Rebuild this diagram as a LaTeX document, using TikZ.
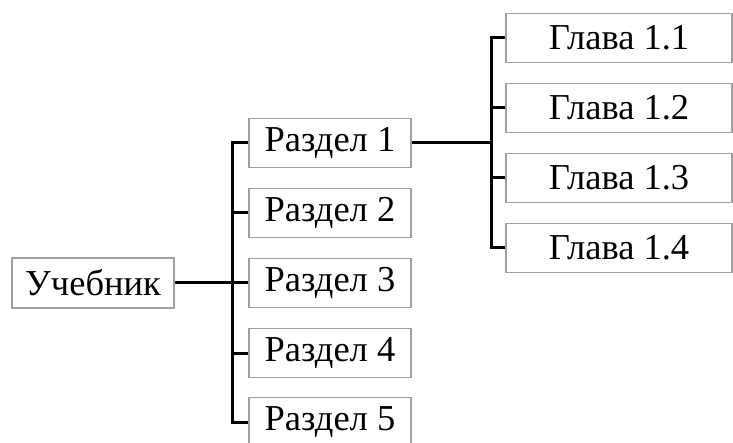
\documentclass[tikz,border=0pt]{standalone}
\usepackage{fontspec}
\setmainfont{Liberation Serif}
\begin{document}
\begin{tikzpicture}[x=1pt,y=-1pt,
  box/.style={draw=boxgray,line width=1.4pt,inner sep=0pt,
    font=\fontsize{36.5}{44}\selectfont},
  small/.style={box,minimum width=162pt,minimum height=49pt},
  wide/.style={box,minimum width=226pt,minimum height=49pt},
  conn/.style={draw=black,line width=3pt}]
\definecolor{boxgray}{HTML}{A0A0A0}
\useasboundingbox (0,0) rectangle (733,443);
% root
\node[box,minimum width=162pt,minimum height=50pt] (book) at (93,283) {Учебник};
% sections
\node[small] (r1) at (330,143) {Раздел 1};
\node[small] (r2) at (330,213) {Раздел 2};
\node[small] (r3) at (330,283) {Раздел 3};
\node[small] (r4) at (330,353) {Раздел 4};
\node[small] (r5) at (330,422) {Раздел 5};
% chapters of section 1
\node[wide] (g1) at (619,38) {Глава 1.1};
\node[wide] (g2) at (619,108) {Глава 1.2};
\node[wide] (g3) at (619,178) {Глава 1.3};
\node[wide] (g4) at (619,248) {Глава 1.4};
% junction columns
\coordinate (ja) at (232,0);
\coordinate (jb) at (491,0);
% root to sections
\draw[conn] (book.east) -- (r3.west);
\draw[conn] (r1.west) -- (r1.west -| ja) |- (r5.west);
\draw[conn] (r2.west -| ja) -- (r2.west);
\draw[conn] (r4.west -| ja) -- (r4.west);
% section 1 to chapters
\draw[conn] (r1.east) -- (r1.east -| jb);
\draw[conn] (g1.west) -- (g1.west -| jb) |- (g4.west);
\draw[conn] (g2.west -| jb) -- (g2.west);
\draw[conn] (g3.west -| jb) -- (g3.west);
\end{tikzpicture}
\end{document}
